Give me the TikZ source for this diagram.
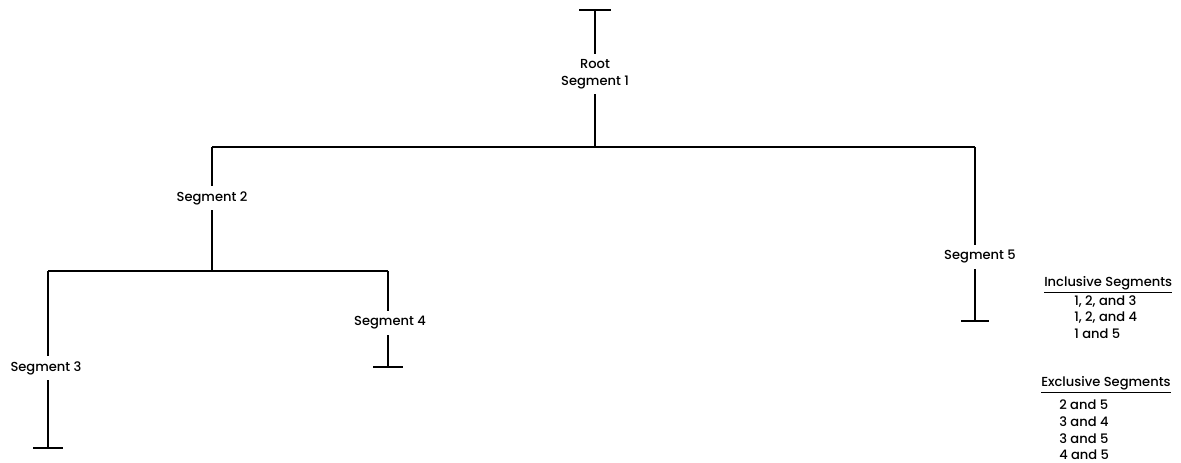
\documentclass[tikz,border=0pt]{standalone}
\usepackage{fontspec}
\setmainfont{Poppins}[UprightFont={* Medium}]
\newcommand{\segfont}{\fontsize{9.8}{12.4}\selectfont}
\begin{document}
\begin{tikzpicture}[x=0.75pt,y=0.75pt,yscale=-1,xscale=1,
  seg/.style={font=\segfont, align=center, inner sep=0.75pt, outer sep=3.5pt},
  tline/.style={line width=1.4pt},
  lgd/.style={font=\segfont, inner sep=0.75pt}]
\useasboundingbox (0,0) rectangle (1181,463);

% Text Node
\node[seg] (root) at (595,74) {Root\\Segment 1};
% Text Node
\node[seg] (seg2) at (212,198) {Segment 2};
% Text Node
\node[seg] (seg3) at (46,368) {Segment 3};
% Text Node
\node[seg] (seg4) at (390,323) {Segment 4};
% Text Node
\node[seg] (seg5) at (980,257) {Segment 5};

%Coordinates of the tree
\coordinate (top1) at (595,10);
\coordinate (j1) at (595,147);
\coordinate (l1) at (212,147);
\coordinate (r1) at (975,147);
\coordinate (j2) at (212,271);
\coordinate (l2) at (48,271);
\coordinate (r2) at (388,271);
\coordinate (end3) at (48,448);
\coordinate (end4) at (388,367);
\coordinate (end5) at (975,321);

%Straight Lines
\draw[tline] (top1) ++(-16,0) -- ++(32,0);
\draw[tline] (top1) -- (root);
\draw[tline] (root) -- (j1);
\draw[tline] (l1) -- (r1);
%Segment 2
\draw[tline] (l1) -- (l1 |- seg2.north);
\draw[tline] (l1 |- seg2.south) -- (j2);
\draw[tline] (l2) -- (r2);
%Segment 3
\draw[tline] (l2) -- (l2 |- seg3.north);
\draw[tline] (l2 |- seg3.south) -- (end3);
\draw[tline] (end3) ++(-15,0) -- ++(30,0);
%Segment 4
\draw[tline] (r2) -- (r2 |- seg4.north);
\draw[tline] (r2 |- seg4.south) -- (end4);
\draw[tline] (end4) ++(-15,0) -- ++(30,0);
%Segment 5
\draw[tline] (r1) -- (r1 |- seg5.north);
\draw[tline] (r1 |- seg5.south) -- (end5);
\draw[tline] (end5) ++(-14,0) -- ++(28,0);

% Text Node
\node[lgd, anchor=west] (inc) at (1043,285) {\underline{Inclusive Segments}};
% Text Node
\node[lgd, align=left, anchor=north west] (inclist) at (1073,294) {1, 2, and 3\\1, 2, and 4\\1 and 5};
% Text Node
\node[lgd, anchor=west] (exc) at (1040,385) {\underline{Exclusive Segments}};
% Text Node
\node[lgd, align=left, anchor=north west] (exclist) at (1058,399) {2 and 5\\3 and 4\\3 and 5\\4 and 5};

\end{tikzpicture}
\end{document}
